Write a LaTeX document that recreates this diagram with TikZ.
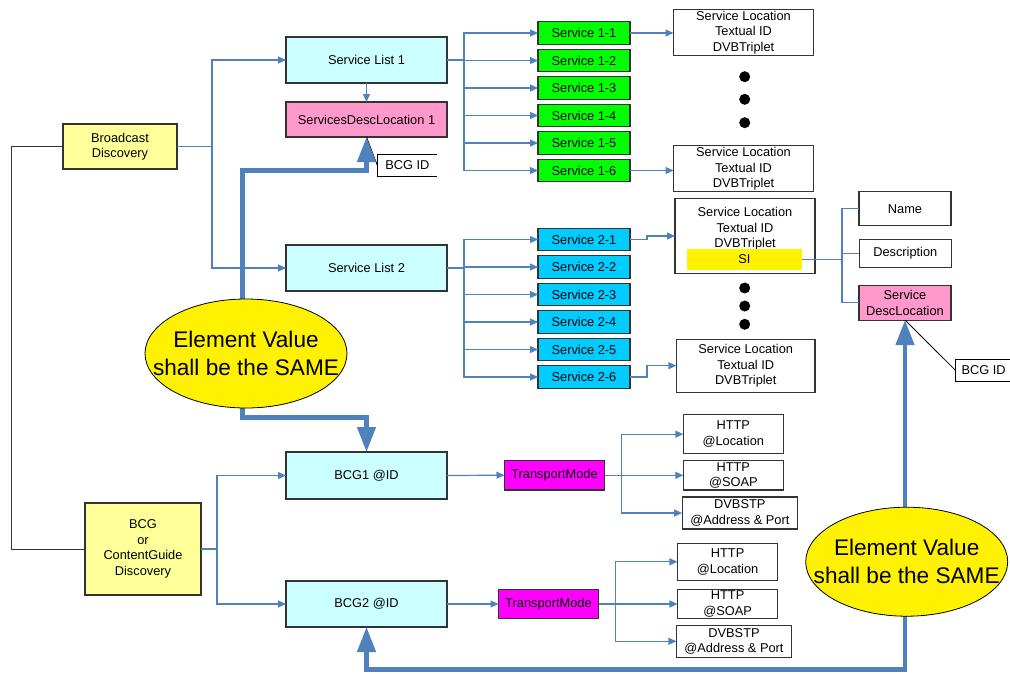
\documentclass[tikz,border=0pt]{standalone}
\usepackage{fontspec}
\setmainfont{Liberation Sans}
\usetikzlibrary{positioning,shapes.geometric,arrows.meta}

\definecolor{boxgray}{HTML}{333333}
\definecolor{linkblue}{HTML}{4F81BD}
\definecolor{discoyellow}{HTML}{FFFF99}
\definecolor{listcyan}{HTML}{CCFFFF}
\definecolor{descpink}{HTML}{FF99CC}
\definecolor{svcgreen}{HTML}{00FF00}
\definecolor{svcblue}{HTML}{00CCFF}
\definecolor{modemagenta}{HTML}{FF00FF}

\tikzset{
  box/.style={draw=boxgray, line width=1.1pt, inner sep=0pt, outer sep=0pt,
    align=center, font=\fontsize{12.8}{15.5}\selectfont},
  disco/.style={box, fill=discoyellow},
  svlist/.style={box, fill=listcyan, minimum width=161pt},
  descloc/.style={box, fill=descpink},
  svcone/.style={box, fill=svcgreen, minimum width=92pt, minimum height=22.5pt},
  svctwo/.style={box, fill=svcblue, minimum width=92pt, minimum height=22.5pt},
  locbox/.style={box, fill=white, minimum width=140pt},
  attr/.style={box, fill=white, minimum width=92pt},
  trmode/.style={box, fill=modemagenta, minimum width=100pt, minimum height=29.5pt},
  sibar/.style={box, draw=none, fill=yellow, minimum width=115pt, minimum height=21pt},
  plaintext/.style={inner sep=0pt, align=center, font=\fontsize{12.8}{15.5}\selectfont},
  dotmark/.style={circle, fill=black, inner sep=0pt, minimum size=11pt},
  calloutbox/.style={inner sep=0pt, outer sep=0pt, minimum height=22.7pt, font=\fontsize{12.8}{15.5}\selectfont},
  link/.style={draw=linkblue, line width=1.2pt, >={Triangle[length=8pt,width=7pt]}},
  fat/.style={draw=linkblue, line width=4.5pt, >={Triangle[length=25pt,width=18pt]}},
  samebubble/.style={ellipse, draw=black, line width=0.8pt, fill=yellow, inner sep=0pt,
    minimum width=202pt, minimum height=109pt},
  sametext/.style={inner sep=0pt, align=center, font=\fontsize{22.6}{28}\selectfont}
}

\begin{document}
\begin{tikzpicture}[x=1pt, y=-1pt, node distance=5pt]
  \useasboundingbox (0,0) rectangle (1010,673);

  %Define nodes
  \node[disco, minimum width=114pt, minimum height=45pt] (bd) at (120,146.5) {Broadcast\\Discovery};
  \node[disco, minimum width=116pt, minimum height=92pt] (cgd) at (143,549) {BCG\\or\\ContentGuide\\Discovery};

  \node[svlist, minimum height=46pt] (sl1) at (366.5,60) {Service List 1};
  \node[descloc, minimum width=161pt, minimum height=35pt, below=19pt of sl1] (sdl1) {ServicesDescLocation 1};
  \node[calloutbox, minimum width=60pt] (bcgid1) at (407.3,165.3) {BCG ID};
  \node[svlist, minimum height=46pt] (sl2) at (366.5,268) {Service List 2};
  \node[svlist, minimum height=47pt] (bcg1) at (366.5,475.5) {BCG1 @ID};
  \node[svlist, minimum height=46pt] (bcg2) at (366.5,604) {BCG2 @ID};

  % Services of list 1
  \node[svcone] (s11) at (584,33) {Service 1-1};
  \node[svcone, below=of s11] (s12) {Service 1-2};
  \node[svcone, below=of s12] (s13) {Service 1-3};
  \node[svcone, below=of s13] (s14) {Service 1-4};
  \node[svcone, below=of s14] (s15) {Service 1-5};
  \node[svcone, below=of s15] (s16) {Service 1-6};

  \node[locbox, minimum height=46pt] (loc11) at (743.5,32.2) {Service Location\\Textual ID\\DVBTriplet};
  \node[dotmark] (d11) at (744.7,76.7) {};
  \node[dotmark] (d12) at (744.7,99.3) {};
  \node[dotmark] (d13) at (744.7,122.7) {};
  \node[locbox, minimum height=46pt] (loc16) at (743.5,168.7) {Service Location\\Textual ID\\DVBTriplet};

  % Services of list 2
  \node[svctwo] (s21) at (584,239.5) {Service 2-1};
  \node[svctwo, below=of s21] (s22) {Service 2-2};
  \node[svctwo, below=of s22] (s23) {Service 2-3};
  \node[svctwo, below=of s23] (s24) {Service 2-4};
  \node[svctwo, below=of s24] (s25) {Service 2-5};
  \node[svctwo, below=of s25] (s26) {Service 2-6};

  \node[locbox, minimum height=74.6pt] (loc21) at (745,236) {};
  \node[plaintext] (loc21txt) at (745,228.7) {Service Location\\Textual ID\\DVBTriplet};
  \node[sibar] (si) at (744.5,259.5) {SI};
  \node[dotmark] (d21) at (744.7,288) {};
  \node[dotmark] (d22) at (744.7,306) {};
  \node[dotmark] (d23) at (744.7,324.3) {};
  \node[locbox, minimum width=138.6pt, minimum height=53.3pt] (loc26) at (745.7,365.7) {Service Location\\Textual ID\\DVBTriplet};

  % SI elements
  \node[attr, minimum height=34pt] (name) at (905,208.7) {Name};
  \node[attr, minimum height=28.4pt] (descr) at (905.3,253.5) {Description};
  \node[descloc, minimum width=92pt, minimum height=34.7pt] (sdl) at (905,302.7) {Service\\DescLocation};
  \node[calloutbox, minimum width=56pt] (bcgid2) at (983.6,370.5) {BCG ID};

  % Transport of the BCGs
  \node[trmode] (tm1) at (554.5,475.2) {TransportMode};
  \node[attr, minimum width=100pt, minimum height=39pt] (hl1) at (733.3,434.2) {HTTP\\@Location};
  \node[attr, minimum width=100pt, minimum height=29.3pt] (hs1) at (733.3,475.3) {HTTP\\@SOAP};
  \node[attr, minimum width=115.3pt, minimum height=32pt] (dv1) at (739.8,513) {DVBSTP\\@Address \& Port};

  \node[trmode] (tm2) at (548.5,604) {TransportMode};
  \node[attr, minimum width=100.3pt, minimum height=37pt] (hl2) at (727.6,561.8) {HTTP\\@Location};
  \node[attr, minimum width=100.3pt, minimum height=29.4pt] (hs2) at (727.6,604) {HTTP\\@SOAP};
  \node[attr, minimum width=115.2pt, minimum height=32pt] (dv2) at (734,641.3) {DVBSTP\\@Address \& Port};

  % Connect the nodes
  \draw[boxgray, line width=1pt] (bd.west) -- ++(-52,0) |- (cgd.west);
  \draw[link,->] (bd.east) -- ++(35,0) |- (sl1.west);
  \draw[link,->] (bd.east) -- ++(35,0) |- (sl2.west);
  \draw[link,->] (cgd.east) -- ++(16,0) |- (bcg1.west);
  \draw[link,->] (cgd.east) -- ++(16,0) |- (bcg2.west);
  \draw[link,->] (sl1.south) -- (sdl1.north);

  \draw[link,->] (sl1.east) -- ++(17,0) |- (s11.west);
  \draw[link,->] (sl1.east) -- ++(17,0) |- (s12.west);
  \draw[link,->] (sl1.east) -- ++(17,0) |- (s13.west);
  \draw[link,->] (sl1.east) -- ++(17,0) |- (s14.west);
  \draw[link,->] (sl1.east) -- ++(17,0) |- (s15.west);
  \draw[link,->] (sl1.east) -- ++(17,0) |- (s16.west);
  \draw[link,->] (s11.east) -- (s11.east -| loc11.west);
  \draw[link,->] (s16.east) -- (s16.east -| loc16.west);

  \draw[link,->] (sl2.east) -- ++(17,0) |- (s21.west);
  \draw[link,->] (sl2.east) -- ++(17,0) |- (s22.west);
  \draw[link,->] (sl2.east) -- ++(17,0) |- (s23.west);
  \draw[link,->] (sl2.east) -- ++(17,0) |- (s24.west);
  \draw[link,->] (sl2.east) -- ++(17,0) |- (s25.west);
  \draw[link,->] (sl2.east) -- ++(17,0) |- (s26.west);
  \draw[link,->] (s21.east) -- ++(17,0) |- (loc21.west);
  \draw[link,->] (s26.east) -- ++(17,0) |- (loc26.west);

  \draw[link] (si.east) -- ++(40,0) |- (name.west);
  \draw[link] (si.east) -- ++(40,0) |- (descr.west);
  \draw[link] (si.east) -- ++(40,0) |- (sdl.west);

  \draw[link,->] (bcg1.east) -- (tm1.west);
  \draw[link,->] (tm1.east) -- ++(17,0) |- (hl1.west);
  \draw[link,->] (tm1.east) -- ++(17,0) |- (hs1.west);
  \draw[link,->] (tm1.east) -- ++(17,0) |- (dv1.west);
  \draw[link,->] (bcg2.east) -- (tm2.west);
  \draw[link,->] (tm2.east) -- ++(17,0) |- (hl2.west);
  \draw[link,->] (tm2.east) -- ++(17,0) |- (hs2.west);
  \draw[link,->] (tm2.east) -- ++(17,0) |- (dv2.west);

  % Callouts
  \draw[line width=0.8pt] (sdl1.south) -- (bcgid1.west);
  \draw[line width=0.8pt] (bcgid1.north east) -- (bcgid1.north west) -- (bcgid1.south west) -- (bcgid1.south east);
  \draw[line width=0.8pt] (sdl.south) -- (bcgid2.west);
  \draw[line width=0.8pt] (bcgid2.north east) -- (bcgid2.north west) -- (bcgid2.south west) -- (bcgid2.south east);

  % Same value arrows
  \coordinate (up1) at (242.3,170.7);
  \coordinate (dn1) at (242.3,417.3);
  \coordinate (dn2) at (905,669.3);
  \draw[fat,<->] (sdl1.south) |- (up1) -- (dn1) -| (bcg1.north);
  \draw[fat,<->] (sdl.south) -- (dn2) -| (bcg2.south);

  \node[samebubble] (ev1) at (246,353.5) {};
  \node[sametext] (ev1txt) at (ev1) {Element Value\\shall be the SAME};
  \node[samebubble] (ev2) at (906.7,561.7) {};
  \node[sametext] (ev2txt) at (ev2) {Element Value\\shall be the SAME};

\end{tikzpicture}
\end{document}
